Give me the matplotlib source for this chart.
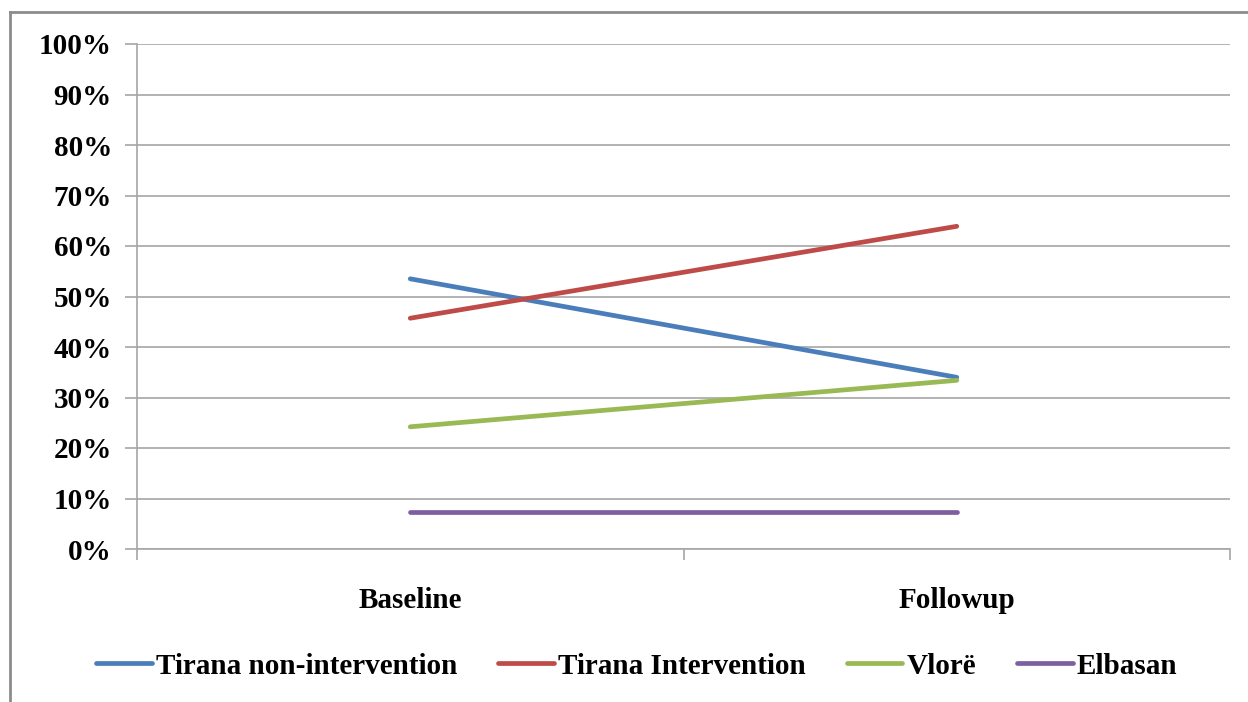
import matplotlib
matplotlib.use("Agg")
import matplotlib.pyplot as plt
from matplotlib.lines import Line2D
from matplotlib.ticker import FixedLocator, PercentFormatter

categories = ["Baseline", "Followup"]
series_names = ["Tirana non-intervention", "Tirana Intervention", "Vlorë", "Elbasan"]
tirana_non = [53.5, 34.0]
tirana_int = [45.7, 63.9]
vlore = [24.2, 33.4]
elbasan = [7.4, 7.4]
series_values = [tirana_non, tirana_int, vlore, elbasan]
colors = ["#4A7EBB", "#BE4B48", "#98B954", "#7D60A0"]
yticks = list(range(0, 101, 10))

plt.rcParams['font.family'] = ['Liberation Serif', 'DejaVu Serif']
plt.rcParams['font.weight'] = 'bold'

W, H = 1248, 702
fig = plt.figure(figsize=(W / 100, H / 100), dpi=100)
ax = fig.add_axes([137 / W, 1 - 549 / H, (1230 - 137) / W, (549 - 44) / H])

xpos = [0.5, 1.5]
for vals, name, c in zip(series_values, series_names, colors):
    ax.plot(xpos, vals, color=c, lw=3.4, solid_capstyle='round', label=name)

ax.set_xlim(0, 2)
ax.set_ylim(0, 100)
ax.yaxis.set_major_locator(FixedLocator(yticks))
ax.yaxis.set_major_formatter(PercentFormatter(decimals=0))
ax.grid(axis='y', color='#A6A6A6', lw=1.2)
ax.set_axisbelow(True)

ax.xaxis.set_major_locator(FixedLocator([0, 1, 2]))
ax.xaxis.set_major_formatter(plt.NullFormatter())
ax.xaxis.set_minor_locator(FixedLocator(xpos))
ax.set_xticklabels(categories, minor=True)
ax.tick_params(axis='x', which='major', length=8, color='#A6A6A6', width=1.2)
ax.tick_params(axis='x', which='minor', length=0, pad=27, labelsize=21)
ax.tick_params(axis='y', length=9, color='#A6A6A6', width=1.2, labelsize=21, pad=9)

for s in ['top', 'right']:
    ax.spines[s].set_visible(False)
for s in ['left', 'bottom']:
    ax.spines[s].set_color('#A6A6A6')
    ax.spines[s].set_linewidth(1.2)

leg = fig.legend(loc='center', bbox_to_anchor=(637 / W, 1 - 666 / H), ncol=4,
                 frameon=False, fontsize=21, handlelength=1.9, handletextpad=0.15,
                 columnspacing=1.4)
for h in leg.get_lines():
    h.set_linewidth(3.4)

# outer frame fragments
fig.add_artist(Line2D([10 / W, 1.0], [1 - 12 / H, 1 - 12 / H], transform=fig.transFigure,
                      color='#8C8C8C', lw=2))
fig.add_artist(Line2D([10 / W, 10 / W], [1 - 12 / H, 0], transform=fig.transFigure,
                      color='#8C8C8C', lw=2))

fig.savefig("out.png", dpi=100, facecolor='white')
